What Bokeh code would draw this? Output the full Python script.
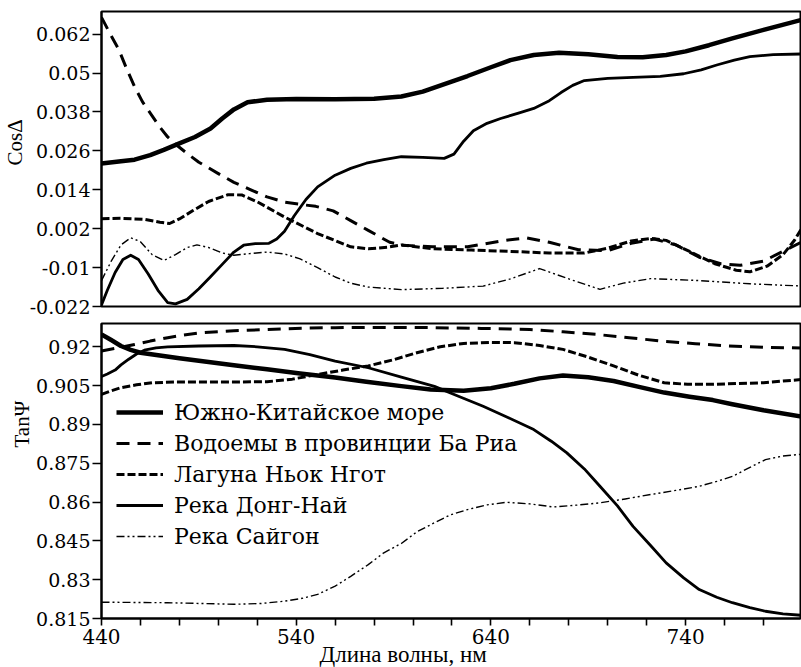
from bokeh.plotting import figure
from bokeh.layouts import column
from bokeh.models import Range1d, FixedTicker, Legend, LegendItem, Title
from bokeh.embed import file_html
from bokeh.resources import INLINE

# ---------------- data ----------------
SERIES_NAMES = ["Южно-Китайское море", "Водоемы в провинции Ба Риа",
                "Лагуна Ньок Нгот", "Река Донг-Най", "Река Сайгон"]

# CosΔ (upper panel)
scs_cos_x = [440, 450, 457, 465, 472, 480, 488, 496, 502, 508, 515, 525, 540, 560, 580, 594,
             605, 615, 628, 640, 650, 662, 675, 690, 705, 718, 730, 740, 752, 764, 781, 800]
scs_cos_y = [0.0221, 0.0228, 0.0233, 0.0247, 0.0263, 0.0283, 0.0303, 0.0329, 0.0360, 0.0388,
             0.0410, 0.0418, 0.0420, 0.0419, 0.0421, 0.0428, 0.0443, 0.0464, 0.0491, 0.0518,
             0.0540, 0.0556, 0.0563, 0.0558, 0.0550, 0.0549, 0.0556, 0.0567, 0.0586, 0.0607,
             0.0635, 0.0665]

bar_cos_x = [440, 445, 449, 453, 457, 461, 466, 470, 474, 479, 484, 490, 500, 508, 517, 525,
             534, 542, 550, 559, 568, 577, 588, 595, 610, 628, 645, 658, 670, 685, 700, 712,
             724, 735, 747, 758, 768, 780, 790, 800]
bar_cos_y = [0.0672, 0.0615, 0.0571, 0.0512, 0.0458, 0.0412, 0.0368, 0.0333, 0.0303, 0.0276,
             0.0252, 0.0225, 0.0190, 0.0163, 0.0139, 0.0118, 0.0102, 0.0095, 0.0089, 0.0075,
             0.0045, 0.0015, -0.0022, -0.0031, -0.0036, -0.0036, -0.0018, -0.0008, -0.0022,
             -0.0045, -0.0048, -0.0025, -0.0012, -0.0030, -0.0068, -0.0088, -0.0093, -0.0080,
             -0.0050, -0.0020]

lag_cos_x = [440, 450, 462, 470, 475, 480, 487, 495, 505, 512, 520, 534, 551, 568, 577, 587,
             594, 610, 630, 650, 670, 688, 700, 712, 722, 730, 742, 755, 766, 773, 782, 790,
             796, 800]
lag_cos_y = [0.0051, 0.0052, 0.0049, 0.0040, 0.0036, 0.0050, 0.0076, 0.0104, 0.0125, 0.0124,
             0.0103, 0.0056, 0.0005, -0.0036, -0.0042, -0.0037, -0.0030, -0.0042, -0.0046,
             -0.0050, -0.0055, -0.0055, -0.0040, -0.0018, -0.0010, -0.0016, -0.0050, -0.0088,
             -0.0108, -0.0113, -0.0095, -0.0060, -0.0015, 0.0025]

dn_cos_x = [440, 443, 447, 451, 455, 459, 464, 469, 474, 478, 484, 490, 496, 502, 508, 513,
            519, 526, 530, 534, 539, 545, 551, 560, 568, 576, 585, 594, 605, 616, 621, 626,
            631, 638, 645, 655, 662, 670, 676, 682, 688, 700, 713, 727, 739, 748, 756, 765,
            773, 785, 800]
dn_cos_y = [-0.0215, -0.0170, -0.0115, -0.0075, -0.0062, -0.0075, -0.0120, -0.0170, -0.0208,
            -0.0212, -0.0198, -0.0165, -0.0128, -0.0090, -0.0052, -0.0031, -0.0026, -0.0025,
            -0.0012, 0.0012, 0.0060, 0.0110, 0.0149, 0.0185, 0.0206, 0.0222, 0.0233, 0.0242,
            0.0240, 0.0237, 0.0250, 0.0290, 0.0322, 0.0345, 0.0360, 0.0378, 0.0391, 0.0415,
            0.0440, 0.0462, 0.0477, 0.0484, 0.0487, 0.0490, 0.0498, 0.0510, 0.0525, 0.0540,
            0.0551, 0.0557, 0.0559]

sg_cos_x = [440, 445, 450, 455, 460, 466, 472, 478, 484, 489, 495, 502, 508, 516, 525, 534,
            542, 551, 560, 568, 577, 594, 615, 636, 650, 665, 680, 696, 708, 722, 747, 773, 800]
sg_cos_y = [-0.0140, -0.0080, -0.0030, -0.0008, -0.0020, -0.0060, -0.0078, -0.0060, -0.0038,
            -0.0030, -0.0038, -0.0055, -0.0062, -0.0057, -0.0052, -0.0058, -0.0073, -0.0100,
            -0.0129, -0.0148, -0.0160, -0.0168, -0.0164, -0.0157, -0.0135, -0.0103, -0.0135,
            -0.0167, -0.0148, -0.0134, -0.0140, -0.0150, -0.0157]

# TanΨ (lower panel)
scs_tan_x = [440, 445, 450, 455, 460, 470, 480, 491, 508, 525, 542, 560, 576, 594, 609, 626,
             640, 652, 665, 677, 690, 703, 716, 729, 742, 754, 764, 780, 800]
scs_tan_y = [0.9248, 0.9226, 0.9203, 0.9188, 0.9177, 0.9166, 0.9156, 0.9145, 0.9129, 0.9113,
             0.9097, 0.9081, 0.9065, 0.9048, 0.9035, 0.9030, 0.9040, 0.9057, 0.9078, 0.9089,
             0.9082, 0.9068, 0.9045, 0.9023, 0.9007, 0.8994, 0.8978, 0.8955, 0.8930]

bar_tan_x = [440, 450, 457, 465, 474, 482, 491, 508, 525, 545, 560, 585, 610, 635, 660, 677,
             694, 711, 728, 745, 762, 780, 800]
bar_tan_y = [0.9184, 0.9198, 0.9209, 0.9222, 0.9235, 0.9245, 0.9254, 0.9262, 0.9267, 0.9272,
             0.9274, 0.9275, 0.9274, 0.9271, 0.9267, 0.9258, 0.9248, 0.9235, 0.9222, 0.9212,
             0.9203, 0.9198, 0.9195]

lag_tan_x = [440, 445, 450, 458, 466, 478, 491, 508, 525, 538, 551, 564, 577, 590, 602, 614,
             626, 640, 652, 665, 677, 690, 703, 716, 729, 741, 754, 767, 780, 800]
lag_tan_y = [0.9016, 0.9030, 0.9042, 0.9053, 0.9061, 0.9064, 0.9064, 0.9064, 0.9065, 0.9075,
             0.9093, 0.9110, 0.9126, 0.9150, 0.9177, 0.9200, 0.9213, 0.9217, 0.9216, 0.9205,
             0.9190, 0.9160, 0.9126, 0.9090, 0.9061, 0.9055, 0.9055, 0.9058, 0.9061, 0.9074]

dn_tan_x = [440, 443, 447, 450, 454, 458, 462, 468, 474, 490, 508, 520, 534, 547, 560, 577,
            594, 611, 623, 636, 649, 662, 671, 679, 688, 696, 705, 713, 722, 730, 739, 747,
            756, 764, 773, 781, 790, 800]
dn_tan_y = [0.9085, 0.9095, 0.9110, 0.9130, 0.9152, 0.9172, 0.9187, 0.9196, 0.9200, 0.9203,
            0.9205, 0.9200, 0.9190, 0.9170, 0.9145, 0.9119, 0.9083, 0.9047, 0.9010, 0.8970,
            0.8926, 0.8880, 0.8835, 0.8790, 0.8728, 0.8661, 0.8585, 0.8506, 0.8432, 0.8365,
            0.8307, 0.8262, 0.8232, 0.8211, 0.8192, 0.8178, 0.8168, 0.8162]

sg_tan_x = [440, 458, 474, 491, 508, 522, 534, 543, 551, 560, 568, 577, 585, 594, 602, 611,
            619, 628, 638, 648, 660, 672, 684, 696, 709, 722, 735, 747, 756, 764, 772, 781,
            790, 800]
sg_tan_y = [0.8213, 0.8212, 0.8211, 0.8208, 0.8205, 0.8208, 0.8217, 0.8228, 0.8243, 0.8275,
            0.8313, 0.8358, 0.8404, 0.8440, 0.8485, 0.8520, 0.8550, 0.8571, 0.8589, 0.8599,
            0.8593, 0.8581, 0.8588, 0.8597, 0.8612, 0.8629, 0.8645, 0.8661, 0.8680, 0.8699,
            0.8730, 0.8764, 0.8778, 0.8785]

# ticks
cos_ticks = [-0.022, -0.01, 0.002, 0.014, 0.026, 0.038, 0.05, 0.062]
cos_tick_labels = ["-0.022", "-0.01", "0.002", "0.014", "0.026", "0.038", "0.05", "0.062"]
tan_ticks = [0.815, 0.83, 0.845, 0.86, 0.875, 0.89, 0.905, 0.92]
tan_tick_labels = ["0.815", "0.83", "0.845", "0.86", "0.875", "0.89", "0.905", "0.92"]
x_major_ticks = [440, 540, 640, 740]
x_minor_ticks = [460, 480, 500, 520, 560, 580, 600, 620, 660, 680, 700, 720, 760, 780]

# ---------------- styling ----------------
TITLE_FONT = "Liberation Serif"
TICK_FONT = "DejaVu Serif"
STYLES = [
    dict(line_width=4.5, line_dash="solid"),
    dict(line_width=3.0, line_dash="13 8"),
    dict(line_width=3.0, line_dash="8 3"),
    dict(line_width=2.8, line_dash="solid"),
    dict(line_width=1.4, line_dash="8 3 2 3 2 3"),
]

cos_data = [(scs_cos_x, scs_cos_y), (bar_cos_x, bar_cos_y), (lag_cos_x, lag_cos_y),
            (dn_cos_x, dn_cos_y), (sg_cos_x, sg_cos_y)]
tan_data = [(scs_tan_x, scs_tan_y), (bar_tan_x, bar_tan_y), (lag_tan_x, lag_tan_y),
            (dn_tan_x, dn_tan_y), (sg_tan_x, sg_tan_y)]


def style(p):
    p.grid.visible = False
    p.outline_line_color = "black"
    p.outline_line_width = 2
    p.outline_line_alpha = 1
    p.background_fill_color = "white"
    p.border_fill_color = "white"
    for ax in p.yaxis:
        ax.axis_line_width = 2
        ax.major_tick_out = 9
        ax.major_tick_in = 0
        ax.major_tick_line_width = 1.6
        ax.minor_tick_out = 0
        ax.minor_tick_in = 0
        ax.major_label_standoff = 2
        ax.major_label_text_font = TICK_FONT
        ax.major_label_text_font_size = "19px"
        ax.major_label_text_color = "black"


def side_title(text, offset, size="21px", standoff=0):
    return Title(text=text, align="left", offset=offset, standoff=standoff,
                 text_font=TITLE_FONT, text_font_size=size, text_font_style="normal",
                 text_color="black")


p1 = figure(width=801, height=320, output_backend="svg", toolbar_location=None,
            x_range=Range1d(440, 799), y_range=Range1d(-0.022, 0.069),
            x_axis_location=None,
            min_border_left=100, min_border_right=1, min_border_top=11, min_border_bottom=14)
style(p1)
p1.yaxis.ticker = FixedTicker(ticks=cos_ticks)
p1.yaxis.major_label_overrides = dict(zip(cos_ticks, cos_tick_labels))
for (xs, ys), st in zip(cos_data, STYLES):
    p1.line(xs, ys, line_color="black", line_cap="butt", line_join="round", **st)
p1.add_layout(side_title("CosΔ", 141), "left")

p2 = figure(width=801, height=347, output_backend="svg", toolbar_location=None,
            x_range=Range1d(440, 799), y_range=Range1d(0.815, 0.929),
            min_border_left=100, min_border_right=1, min_border_top=3, min_border_bottom=49)
style(p2)
p2.yaxis.ticker = FixedTicker(ticks=tan_ticks)
p2.yaxis.major_label_overrides = dict(zip(tan_ticks, tan_tick_labels))
xa = p2.xaxis[0]
xa.ticker = FixedTicker(ticks=x_major_ticks, minor_ticks=x_minor_ticks)
xa.axis_line_width = 2
xa.major_tick_out = 7
xa.major_tick_in = 0
xa.minor_tick_out = 7
xa.minor_tick_in = 0
xa.major_tick_line_width = 1.6
xa.minor_tick_line_width = 1.6
xa.major_label_standoff = 3
xa.major_label_text_font = TICK_FONT
xa.major_label_text_font_size = "20px"
xa.major_label_text_color = "black"

renderers = []
for (xs, ys), st in zip(tan_data, STYLES):
    renderers.append(p2.line(xs, ys, line_color="black", line_cap="butt",
                             line_join="round", **st))

legend = Legend(items=[LegendItem(label=n, renderers=[r]) for n, r in zip(SERIES_NAMES, renderers)],
                location=(15, 69), padding=0, margin=0, spacing=5,
                glyph_width=47, glyph_height=26, label_height=26, label_standoff=11,
                label_text_font=TICK_FONT, label_text_font_size="22px", label_text_color="black",
                background_fill_alpha=0, border_line_alpha=0)
p2.add_layout(legend)

p2.add_layout(side_title("TanΨ", 171), "left")
p2.add_layout(side_title("Длина волны, нм", 218, size="23px", standoff=-13), "below")

layout = column(p1, p2, spacing=0)
open("out.html", "w").write(file_html(layout, INLINE))
